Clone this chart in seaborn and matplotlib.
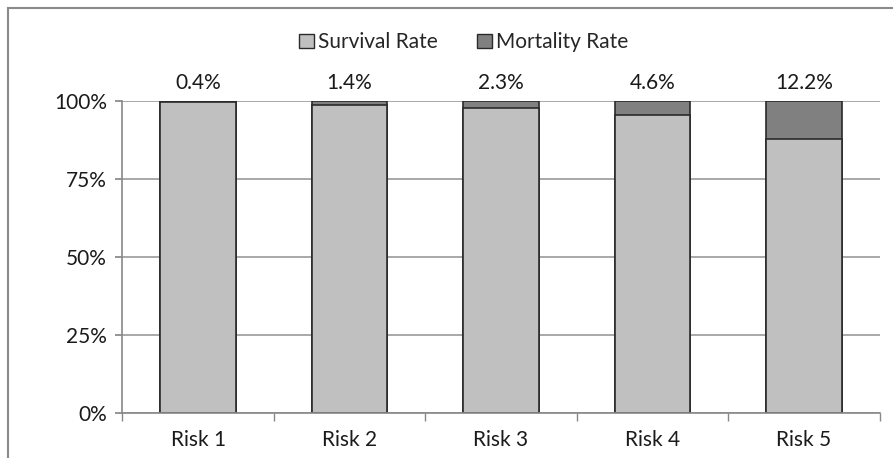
import numpy as np
import pandas as pd
import seaborn as sns
import matplotlib.pyplot as plt
from matplotlib.patches import Rectangle

# Data
risks = ['Risk 1', 'Risk 2', 'Risk 3', 'Risk 4', 'Risk 5']
mortality = [0.4, 1.4, 2.3, 4.6, 12.2]
total = [100, 100, 100, 100, 100]

df = pd.DataFrame({'Risk': risks, 'Mortality': mortality, 'Total': total})
df['Survival'] = df['Total'] - df['Mortality']

sns.set_theme(style='white')
plt.rcParams['font.family'] = ['Lato', 'DejaVu Sans']

fig = plt.figure(figsize=(8.93, 4.58), dpi=100)
ax = fig.add_axes([0.137, 0.098, 0.848, 0.682])

surv_col = '#c0c0c0'
mort_col = '#808080'
edge = '#2a2a2a'
fs = 15

# whole bar in mortality colour, survival drawn over it
sns.barplot(data=df, x='Risk', y='Total', color=mort_col, width=0.5,
            edgecolor=edge, linewidth=1.2, saturation=1, ax=ax)
sns.barplot(data=df, x='Risk', y='Survival', color=surv_col, width=0.5,
            edgecolor=edge, linewidth=1.2, saturation=1, ax=ax)

ax.set_ylim(0, 100)
ax.set_xlim(-0.5, len(risks) - 0.5)
ax.set_yticks([0, 25, 50, 75, 100])
ax.set_yticklabels(['0%', '25%', '50%', '75%', '100%'], fontsize=fs, color='#1a1a1a')
ax.set_xticks(np.arange(len(risks)))
ax.set_xticklabels(risks, fontsize=fs, color='#1a1a1a')
ax.tick_params(axis='x', length=0, pad=12)
ax.tick_params(axis='y', length=5, color='#888888', direction='out', pad=6, left=True)
# minor ticks between categories
ax.set_xticks(np.arange(-0.5, len(risks)), minor=True)
ax.tick_params(axis='x', which='minor', length=6, color='#888888', direction='out', bottom=True)
ax.set_xlabel('')
ax.set_ylabel('')

ax.grid(axis='y', color='#9a9a9a', linewidth=1.2)
ax.set_axisbelow(True)
for s in ['top', 'right']:
    ax.spines[s].set_visible(False)
ax.spines['left'].set_color('#888888')
ax.spines['bottom'].set_color('#888888')
ax.spines['left'].set_linewidth(1.2)
ax.spines['bottom'].set_linewidth(1.2)

for i, m in enumerate(mortality):
    ax.text(i, 102.5, f'{m:.1f}%', ha='center', va='bottom', fontsize=fs, color='#1a1a1a')

handles = [Rectangle((0, 0), 1, 1, facecolor=surv_col, edgecolor=edge, linewidth=1),
           Rectangle((0, 0), 1, 1, facecolor=mort_col, edgecolor=edge, linewidth=1)]
fig.legend(handles, ['Survival Rate', 'Mortality Rate'], loc='center',
           bbox_to_anchor=(0.519, 0.908), ncol=2, frameon=False, fontsize=fs,
           handlelength=0.7, handleheight=0.7, handletextpad=0.2, columnspacing=1.9)

# outer chart border
fig.patches.append(Rectangle((0.009, -0.1), 1.2, 1.082, transform=fig.transFigure,
                             fill=False, edgecolor='#8a8a8a', linewidth=1.5))

fig.savefig('out.png', dpi=100)
